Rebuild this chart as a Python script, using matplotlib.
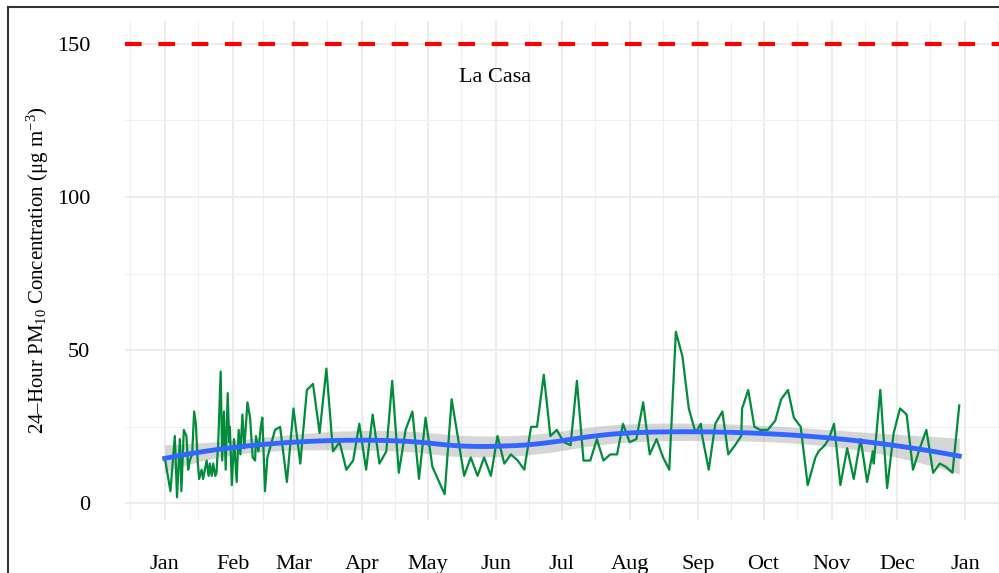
import numpy as np
import matplotlib
matplotlib.use("Agg")
import matplotlib.pyplot as plt
from matplotlib.lines import Line2D

plt.rcParams['font.family'] = ['Liberation Serif', 'DejaVu Serif']
plt.rcParams['mathtext.fontset'] = 'custom'
plt.rcParams['mathtext.rm'] = 'Liberation Serif'
plt.rcParams['mathtext.it'] = 'Liberation Serif:italic'

# 24-hour PM10 at La Casa, days since 1 Jan 2021
day_of_year = [
    0, 2.6, 4.6, 5.6, 6.9, 7.6, 8.7, 9.9, 10.7, 11.4, 12.5, 13.4, 14.2, 15, 15.7,
    16.8, 17.5, 19.1, 20, 20.6, 21.4, 22.1, 23, 23.6, 24.4, 25.5, 26.2, 27, 27.8,
    28.7, 29.4, 29.7, 30.6, 31.6, 32.8, 33.7, 34.5, 35.4, 36.3, 37.7, 38.9, 40.1,
    41.2, 41.6, 42.7, 43.8, 44.5, 45.7, 46.8, 50.3, 52.6, 55.7, 58.7,
    61.8, 64.8, 67.6, 70.6, 73.7, 76.7, 79.7, 82.8, 85.9, 88.7, 91.8, 94.8, 97.9,
    101, 103.7, 106.7, 109.8, 112.9, 115.9, 118.9, 122, 127.6, 130.8, 136.5, 139.5,
    142.6, 145.6, 148.7, 151.7, 154.8, 157.8, 160.9, 163.9, 167, 169.7, 172.8,
    175.8, 178.7, 181.9, 185, 187.9, 190.9, 194, 197, 200, 203.1, 206.2, 208.9,
    211.9, 215, 218.1, 221.1, 224.2, 227.2, 230, 233, 236, 238.9, 242, 244.4, 245,
    248, 251, 254.2, 256.9, 260, 262.8, 263.2, 266, 268.8, 271.4, 274.9, 278.3, 281,
    284.1, 286.8, 289.9, 293.1, 296.6, 298.1, 300.9, 302.7, 305.1, 308, 311.1,
    314.1, 317.2, 320.2, 322.8, 323.2, 326.2, 329.3, 332.3, 335.2, 338.2, 341.1,
    344.2, 347.2, 350.3, 353.3, 356, 359.1, 362.2,
]
pm10 = [
    15, 4, 22, 2, 21, 4, 24, 22, 11, 14, 16, 30, 26, 14, 8,
    11, 8, 14, 9, 13, 9, 13, 9, 10, 20, 43, 14, 30, 11,
    36, 20, 25, 6, 21, 7, 24, 16, 29, 18, 33, 28, 15,
    14, 22, 17, 25, 28, 4, 15, 24, 25, 7, 31,
    13, 37, 39, 23, 44, 17, 20, 11, 14, 26, 11, 29, 13,
    17, 40, 10, 24, 30, 8, 28, 12, 3, 34, 9, 15,
    9, 15, 9, 22, 13, 16, 14, 11, 25, 25, 42,
    22, 24, 20, 19, 40, 14, 14, 21, 14, 16, 16, 26,
    20, 21, 33, 16, 21, 15, 11, 56, 48, 31, 23, 26, 22,
    11, 26, 30, 16, 19, 22, 31, 37, 25, 24, 24, 27, 34,
    37, 28, 25, 6, 15, 17, 19, 21, 26, 6, 18,
    8, 21, 7, 17, 13, 37, 5, 23, 31, 29, 11,
    18, 24, 10, 13, 12, 10, 32,
]
naaqs = 150
site_name = "La Casa"
month_labels = ["Jan", "Feb", "Mar", "Apr", "May", "Jun", "Jul",
                "Aug", "Sep", "Oct", "Nov", "Dec", "Jan"]

x = np.array(day_of_year, dtype=float)
y = np.array(pm10, dtype=float)
start = np.datetime64("2021-01-01T00:00")


def to_dates(days):
    return start + np.round(np.asarray(days) * 1440).astype("timedelta64[m]")


def loess_matrix(xd, x0, span=0.75):
    # local quadratic with tricube weights, one row of smoother weights per x0
    n = len(xd)
    q = int(np.floor(n * span))
    rows = []
    for p in x0:
        d = np.abs(xd - p)
        h = np.sort(d)[q - 1]
        w = np.clip(1 - (d / h) ** 3, 0, None) ** 3
        X = np.column_stack([np.ones(n), xd - p, (xd - p) ** 2])
        XtW = X.T * w
        rows.append(np.linalg.solve(XtW @ X, XtW)[0])
    return np.array(rows)


L_fit = loess_matrix(x, x)
resid = y - L_fit @ y
IL = np.eye(len(x)) - L_fit
sigma = np.sqrt(resid @ resid / np.trace(IL.T @ IL))

xs = np.linspace(x.min(), x.max(), 80)
L_s = loess_matrix(x, xs)
fit = L_s @ y
se = sigma * np.sqrt((L_s ** 2).sum(axis=1))
lo, hi = fit - 1.97 * se, fit + 1.97 * se

fig = plt.figure(figsize=(9.99, 5.73), dpi=100)
ax = fig.add_axes([125 / 999, 1 - 520 / 573, 874 / 999, 499 / 573])

ax.fill_between(to_dates(xs), lo, hi, color="#999999", alpha=0.4, lw=0, zorder=2)
ax.plot(to_dates(x), y, color="#008C3A", lw=1.6, zorder=3)
ax.plot(to_dates(xs), fit, color="#3366FF", lw=3.5, zorder=4)
ax.axhline(naaqs, color="#FF0000", lw=3, dashes=(4, 4), zorder=5)
ax.text(to_dates([150.5])[0], 139, site_name, ha="center", va="center", fontsize=16)

# limits with 5% padding like ggplot
xr = x.max() - x.min()
ax.set_xlim(to_dates([x.min() - 0.05 * xr])[0], to_dates([x.max() + 0.05 * xr])[0])
ymin = min(y.min(), lo.min())
ymax = max(naaqs, hi.max())
yr = ymax - ymin
ax.set_ylim(ymin - 0.05 * yr, ymax + 0.05 * yr)

major = np.arange(np.datetime64("2020-12"), np.datetime64("2022-03"), dtype="datetime64[M]")
major_d = major.astype("datetime64[D]")
minor_d = major_d[:-1] + (major_d[1:] - major_d[:-1]) / 2
ax.set_xticks(major_d[1:-1])
ax.set_xticklabels(month_labels)
ax.set_xticks(minor_d, minor=True)
ax.set_yticks([0, 50, 100, 150])
ax.set_yticks([25, 75, 125], minor=True)

ax.grid(which="major", color="#EBEBEB", lw=1.3)
ax.grid(which="minor", color="#EFEFEF", lw=0.8)
ax.set_axisbelow(True)
for s in ax.spines.values():
    s.set_visible(False)
ax.tick_params(which="both", length=0)
ax.tick_params(axis="x", pad=25.5, labelsize=16)
ax.tick_params(axis="y", pad=25, labelsize=16)

fig.text(38 / 999, 1 - 270 / 573,
         "24\u2013Hour PM$_{10}$ Concentration (\u03bcg m$^{-3}$)",
         rotation=90, ha="center", va="center", fontsize=15)

# frame around the figure
fig.add_artist(Line2D([8 / 999, 1], [1 - 7 / 573] * 2, color="#333333", lw=1.5,
                      transform=fig.transFigure))
fig.add_artist(Line2D([8 / 999] * 2, [0, 1 - 7 / 573], color="#333333", lw=1.5,
                      transform=fig.transFigure))

fig.savefig("out.png", dpi=100)
